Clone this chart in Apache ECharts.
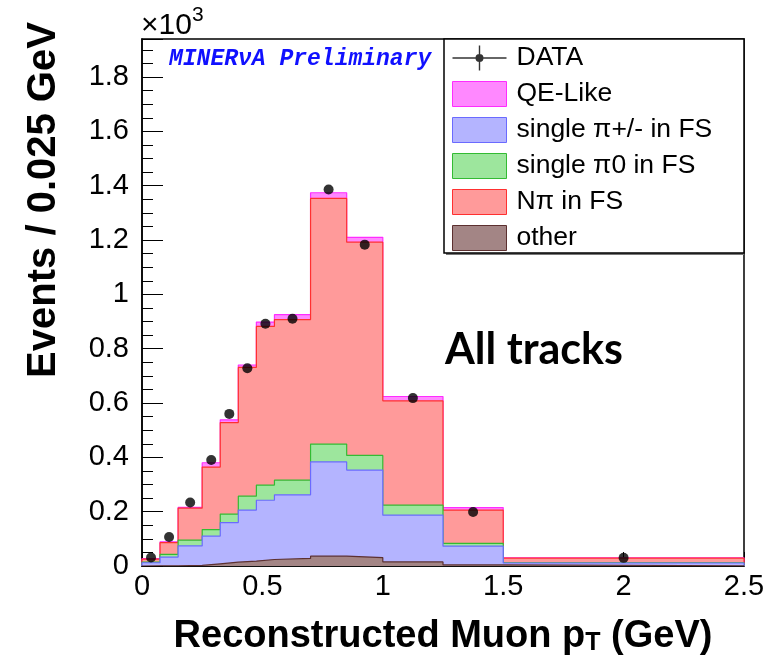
<!DOCTYPE html>
<html><head><meta charset="utf-8">
<script src="https://cdn.jsdelivr.net/npm/echarts@6/dist/echarts.min.js"></script>
<style>html,body{margin:0;padding:0;background:#fff}#c{width:782px;height:666px}</style>
</head><body><div id="c"></div>
<script>
// Bin edges (GeV) of reconstructed muon pT
const binEdges = [0, 0.075, 0.15, 0.25, 0.325, 0.4, 0.475, 0.55, 0.7, 0.85, 1.0, 1.25, 1.5, 2.5];
// Events per bin
const dataCounts = [31, 107, 234, 390, 560, 728, 892, 910, 1386, 1183, 618, 199, 30];
const other      = [1, 1, 2, 8, 14, 18, 24, 28, 36, 31, 15, 4, 1];
const singlePiPM = [11, 32, 72, 102, 146, 188, 218, 234, 347, 322, 172, 69, 10];
const singlePi0  = [2, 10, 21, 24, 31, 51, 56, 54, 66, 54, 37, 10, 1];
const nPi        = [11, 43, 118, 230, 337, 474, 584, 591, 904, 785, 384, 123, 17];
const qeLike     = [2, 3, 3, 16, 10, 9, 16, 18, 21, 18, 16, 9, 1];
const yTickLabels = ['0', '0.2', '0.4', '0.6', '0.8', '1', '1.2', '1.4', '1.6', '1.8'];
const xTickLabels = ['0', '0.5', '1', '1.5', '2', '2.5'];

const FONT = "'Liberation Sans', Arial, Helvetica, sans-serif";

// cumulative stack (bottom -> top): other, pi+/-, pi0, Npi, QE
function add(a, b) { return a.map((v, i) => v + b[i]); }
const cumOther = other.slice();
const cumPiPM = add(cumOther, singlePiPM);
const cumPi0 = add(cumPiPM, singlePi0);
const cumNPi = add(cumPi0, nPi);
const cumQE = add(cumNPi, qeLike);

function stepLine(vals) {
  const pts = [[binEdges[0], 0]];
  vals.forEach((v, i) => { pts.push([binEdges[i], v]); pts.push([binEdges[i + 1], v]); });
  pts.push([binEdges[binEdges.length - 1], 0]);
  return pts;
}
const centers = binEdges.slice(0, -1).map((e, i) => (e + binEdges[i + 1]) / 2);

const comps = [
  { name: 'QE-Like', vals: cumQE, fill: '#ff88ff', line: '#ff2cff' },
  { name: 'N\u03c0 in FS', vals: cumNPi, fill: '#ff9a9a', line: '#ff3030' },
  { name: 'single \u03c00 in FS', vals: cumPi0, fill: '#9de69d', line: '#33bb33' },
  { name: 'single \u03c0+/- in FS', vals: cumPiPM, fill: '#b4b4ff', line: '#6a6aff' },
  { name: 'other', vals: cumOther, fill: '#a38585', line: '#5c3030' }
];

const series = comps.map((c, k) => ({
  name: c.name, type: 'line', data: stepLine(c.vals), showSymbol: false, symbol: 'none',
  color: c.fill, z: 2 + k,
  lineStyle: { color: c.line, width: 1.2 },
  areaStyle: { color: c.fill, opacity: 1 },
  animation: false, silent: true
}));
series.push({
  name: 'DATA', type: 'scatter', data: centers.map((x, i) => [x, dataCounts[i]]),
  symbol: 'circle', symbolSize: 10, itemStyle: { color: '#000' }, z: 20, animation: false
});

const legendOrder = ['QE-Like', 'single \u03c0+/- in FS', 'single \u03c00 in FS', 'N\u03c0 in FS', 'other'];
const legendData = [{ name: 'DATA', icon: 'path://M0,11.8 L54,11.8 L54,13.2 L0,13.2 Z M26.3,0 L27.7,0 L27.7,25 L26.3,25 Z M27,8.5 A4,4 0 1 1 26.99,8.5 Z', itemStyle: { color: '#000' } }]
  .concat(legendOrder.map(n => {
    const c = comps.find(cc => cc.name === n);
    return { name: n, icon: 'rect', itemStyle: { color: c.fill, borderColor: c.line, borderWidth: 1 } };
  }));

const chart = echarts.init(document.getElementById('c'), null, { renderer: 'canvas' });
chart.setOption({
  animation: false,
  backgroundColor: '#fff',
  grid: { left: 142, right: 38, top: 39, bottom: 100, show: true, borderColor: '#000', borderWidth: 1.5, backgroundColor: 'transparent' },
  xAxis: {
    type: 'value', min: 0, max: 2.5, interval: 0.5,
    axisLine: { show: true, onZero: false, lineStyle: { color: '#000', width: 1.5 } },
    axisTick: { show: true, inside: true, length: 14, lineStyle: { color: '#000', width: 1 } },
    minorTick: { show: true, splitNumber: 5, length: 7, lineStyle: { color: '#000', width: 1 } },
    splitLine: { show: false },
    axisLabel: { fontSize: 29, color: '#000', fontFamily: FONT, margin: 6,
      formatter: v => { const i = Math.round(v / 0.5); return Math.abs(v - i * 0.5) < 1e-9 ? xTickLabels[i] : ''; } }
  },
  yAxis: {
    type: 'value', min: 0, max: 1940, interval: 200,
    axisLine: { show: true, lineStyle: { color: '#000', width: 1.5 } },
    axisTick: { show: true, inside: true, length: 21, lineStyle: { color: '#000', width: 1 } },
    minorTick: { show: true, splitNumber: 4, length: 11, lineStyle: { color: '#000', width: 1 } },
    splitLine: { show: false },
    axisLabel: { fontSize: 29, color: '#000', fontFamily: FONT, margin: 13, showMaxLabel: false,
      formatter: v => { const i = Math.round(v / 200); return Math.abs(v - i * 200) < 1e-6 && i < yTickLabels.length ? yTickLabels[i] : ''; } }
  },
  legend: {
    orient: 'vertical', left: 452, top: 44.5, itemWidth: 54, itemHeight: 25, itemGap: 9,
    selectedMode: false, padding: 0,
    textStyle: { fontSize: 26.5, color: '#000', fontFamily: FONT, padding: [0, 0, 0, 5] },
    data: legendData
  },
  graphic: [
    { type: 'rect', z: 1, shape: { x: 446, y: 253, width: 298, height: 2 }, style: { fill: '#777' } },
    { type: 'rect', z: 1, shape: { x: 444, y: 39, width: 300, height: 214 }, style: { fill: '#fff', stroke: '#000', lineWidth: 1.5 } },
    { type: 'text', z: 10, style: { x: 141, y: 5, text: '{a|\u00d710}{s|3}', textAlign: 'left', textVerticalAlign: 'top',
        rich: { a: { fontSize: 30, fontFamily: FONT, fill: '#000', verticalAlign: 'bottom', lineHeight: 36 },
                s: { fontSize: 21, fontFamily: FONT, fill: '#000', verticalAlign: 'top', lineHeight: 20 } } } },
    { type: 'text', z: 10, style: { x: 169, y: 59, text: 'MINER\u03bdA Preliminary', fill: '#1010ff',
        font: "italic bold 23px 'Liberation Mono', 'Courier New', monospace", textAlign: 'left', textVerticalAlign: 'middle' } },
    { type: 'text', z: 10, style: { x: 445, y: 350, text: 'All tracks', fill: '#000',
        font: "bold 43px Lato, 'Open Sans', sans-serif", textAlign: 'left', textVerticalAlign: 'middle' } },
    { type: 'text', z: 10, rotation: Math.PI / 2, x: 44, y: 200, style: { x: 0, y: 0, text: 'Events / 0.025 GeV', fill: '#000',
        font: "bold 40px " + FONT, textAlign: 'center', textVerticalAlign: 'middle' } },
    { type: 'text', z: 10, style: { x: 443, y: 612, text: '{b|Reconstructed Muon p}{s|T}{b| (GeV)}', textAlign: 'center', textVerticalAlign: 'top',
        rich: { b: { fontSize: 38, fontWeight: 'bold', fontFamily: FONT, fill: '#000', verticalAlign: 'bottom', lineHeight: 44 },
                s: { fontSize: 25, fontWeight: 'bold', fontFamily: FONT, fill: '#000', verticalAlign: 'bottom', lineHeight: 12 } } } }
  ],
  series: series
});
</script></body></html>
